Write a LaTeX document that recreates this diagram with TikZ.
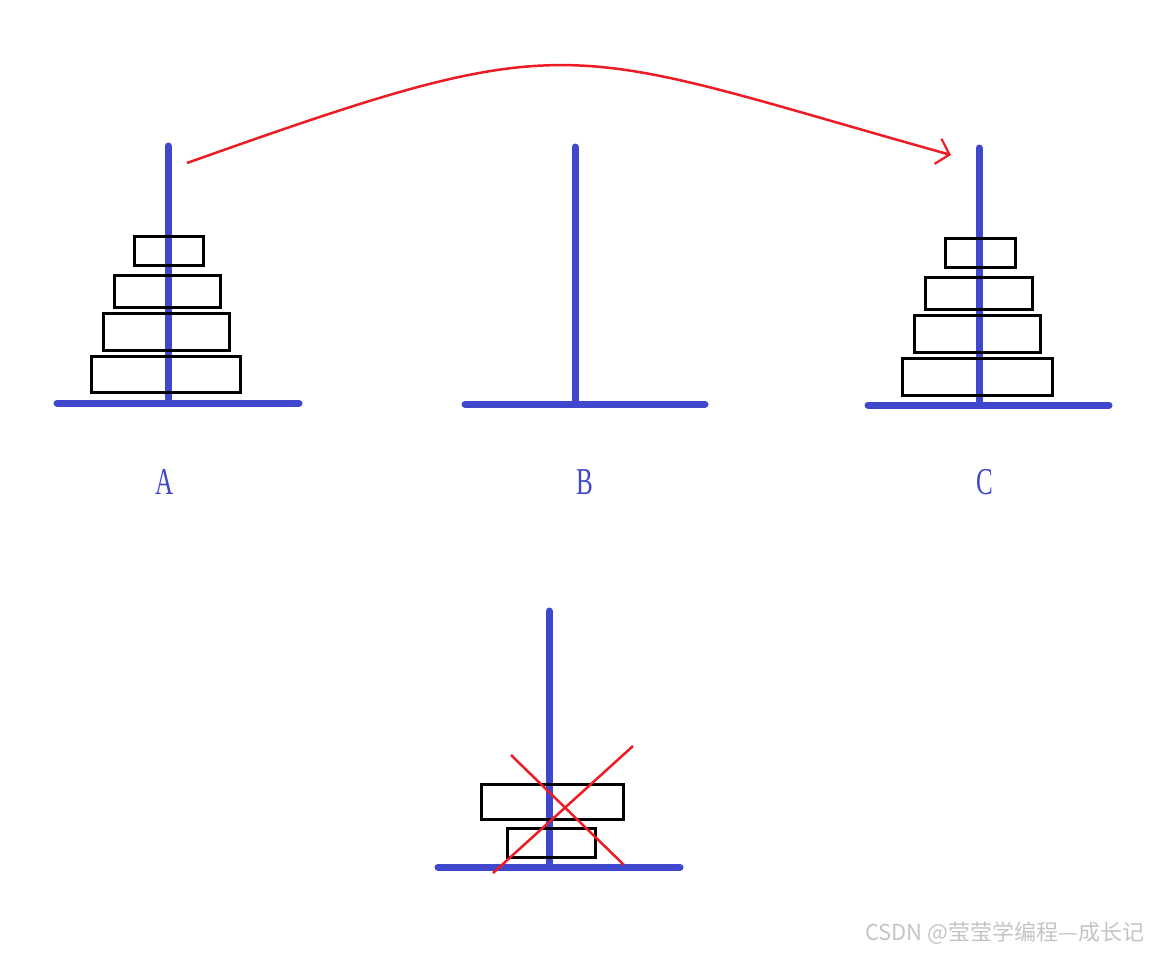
\documentclass[tikz,border=0pt]{standalone}
\usepackage{fontspec}
\newfontfamily\cjk{Noto Sans CJK SC}
\setmainfont{Liberation Serif}
\usetikzlibrary{arrows.meta}
\definecolor{pblue}{RGB}{63,72,204}
\definecolor{pred}{RGB}{237,28,36}
\definecolor{wmgray}{RGB}{196,196,196}
\tikzset{
  pole/.style={draw=pblue, line width=7pt, line cap=round},
  disk/.style={draw=black, line width=3pt, fill=none},
  redline/.style={draw=pred, line width=2.5pt},
  lbl/.style={text=pblue, inner sep=0pt, font=\fontsize{38}{38}\selectfont},
}
\begin{document}
\begin{tikzpicture}[x=1pt, y=-1pt]
\useasboundingbox (0,0) rectangle (1149,953);
% Tower A
\draw[pole] (168,146) -- (168,403);
\draw[pole] (57,403) -- (299,403);
\draw[disk] (134.5,236.5) rectangle (203.5,265.5);
\draw[disk] (114.5,275.5) rectangle (220.5,307);
\draw[disk] (103.5,313.5) rectangle (229,350.5);
\draw[disk] (91.5,356.5) rectangle (240.5,392.5);
% Tower B
\draw[pole] (575,147) -- (575,404);
\draw[pole] (465,404) -- (705,404);
% Tower C
\draw[pole] (979,148) -- (979,405);
\draw[pole] (868,405) -- (1109,405);
\draw[disk] (945.5,238.5) rectangle (1015,267);
\draw[disk] (925,277) rectangle (1032,309.5);
\draw[disk] (914,315) rectangle (1040,352.5);
\draw[disk] (902,358) rectangle (1052,395);
% labels
\node[lbl] (la) at (165,482) {\scalebox{0.66}[1]{A}};
\node[lbl] (lb) at (585,482) {\scalebox{0.66}[1]{B}};
\node[lbl] (lc) at (985,482) {\scalebox{0.66}[1]{C}};
% arrow from A to C
\coordinate (s) at (187,163);
\coordinate (e) at (951,155);
\draw[redline, -{Straight Barb[length=12pt, width=26pt, line width=2.2pt]}] (s) .. controls (581,23) and (557,45) .. (e);
% bottom tower
\draw[pole] (549,611) -- (549,867);
\draw[pole] (438,867) -- (680,867);
\draw[disk] (481.5,784) rectangle (623.5,819);
\draw[disk] (507.5,828) rectangle (595.5,857.5);
\coordinate (x1) at (511,755);
\coordinate (x2) at (624,865);
\coordinate (x3) at (633,746);
\coordinate (x4) at (493,873);
\draw[redline] (x1) -- (x2);
\draw[redline] (x3) -- (x4);
% watermark
\node[anchor=west, inner sep=0pt, text=wmgray, font=\cjk\fontsize{22}{22}\selectfont] (wm) at (865,933) {CSDN @莹莹学编程—成长记};
\end{tikzpicture}
\end{document}
